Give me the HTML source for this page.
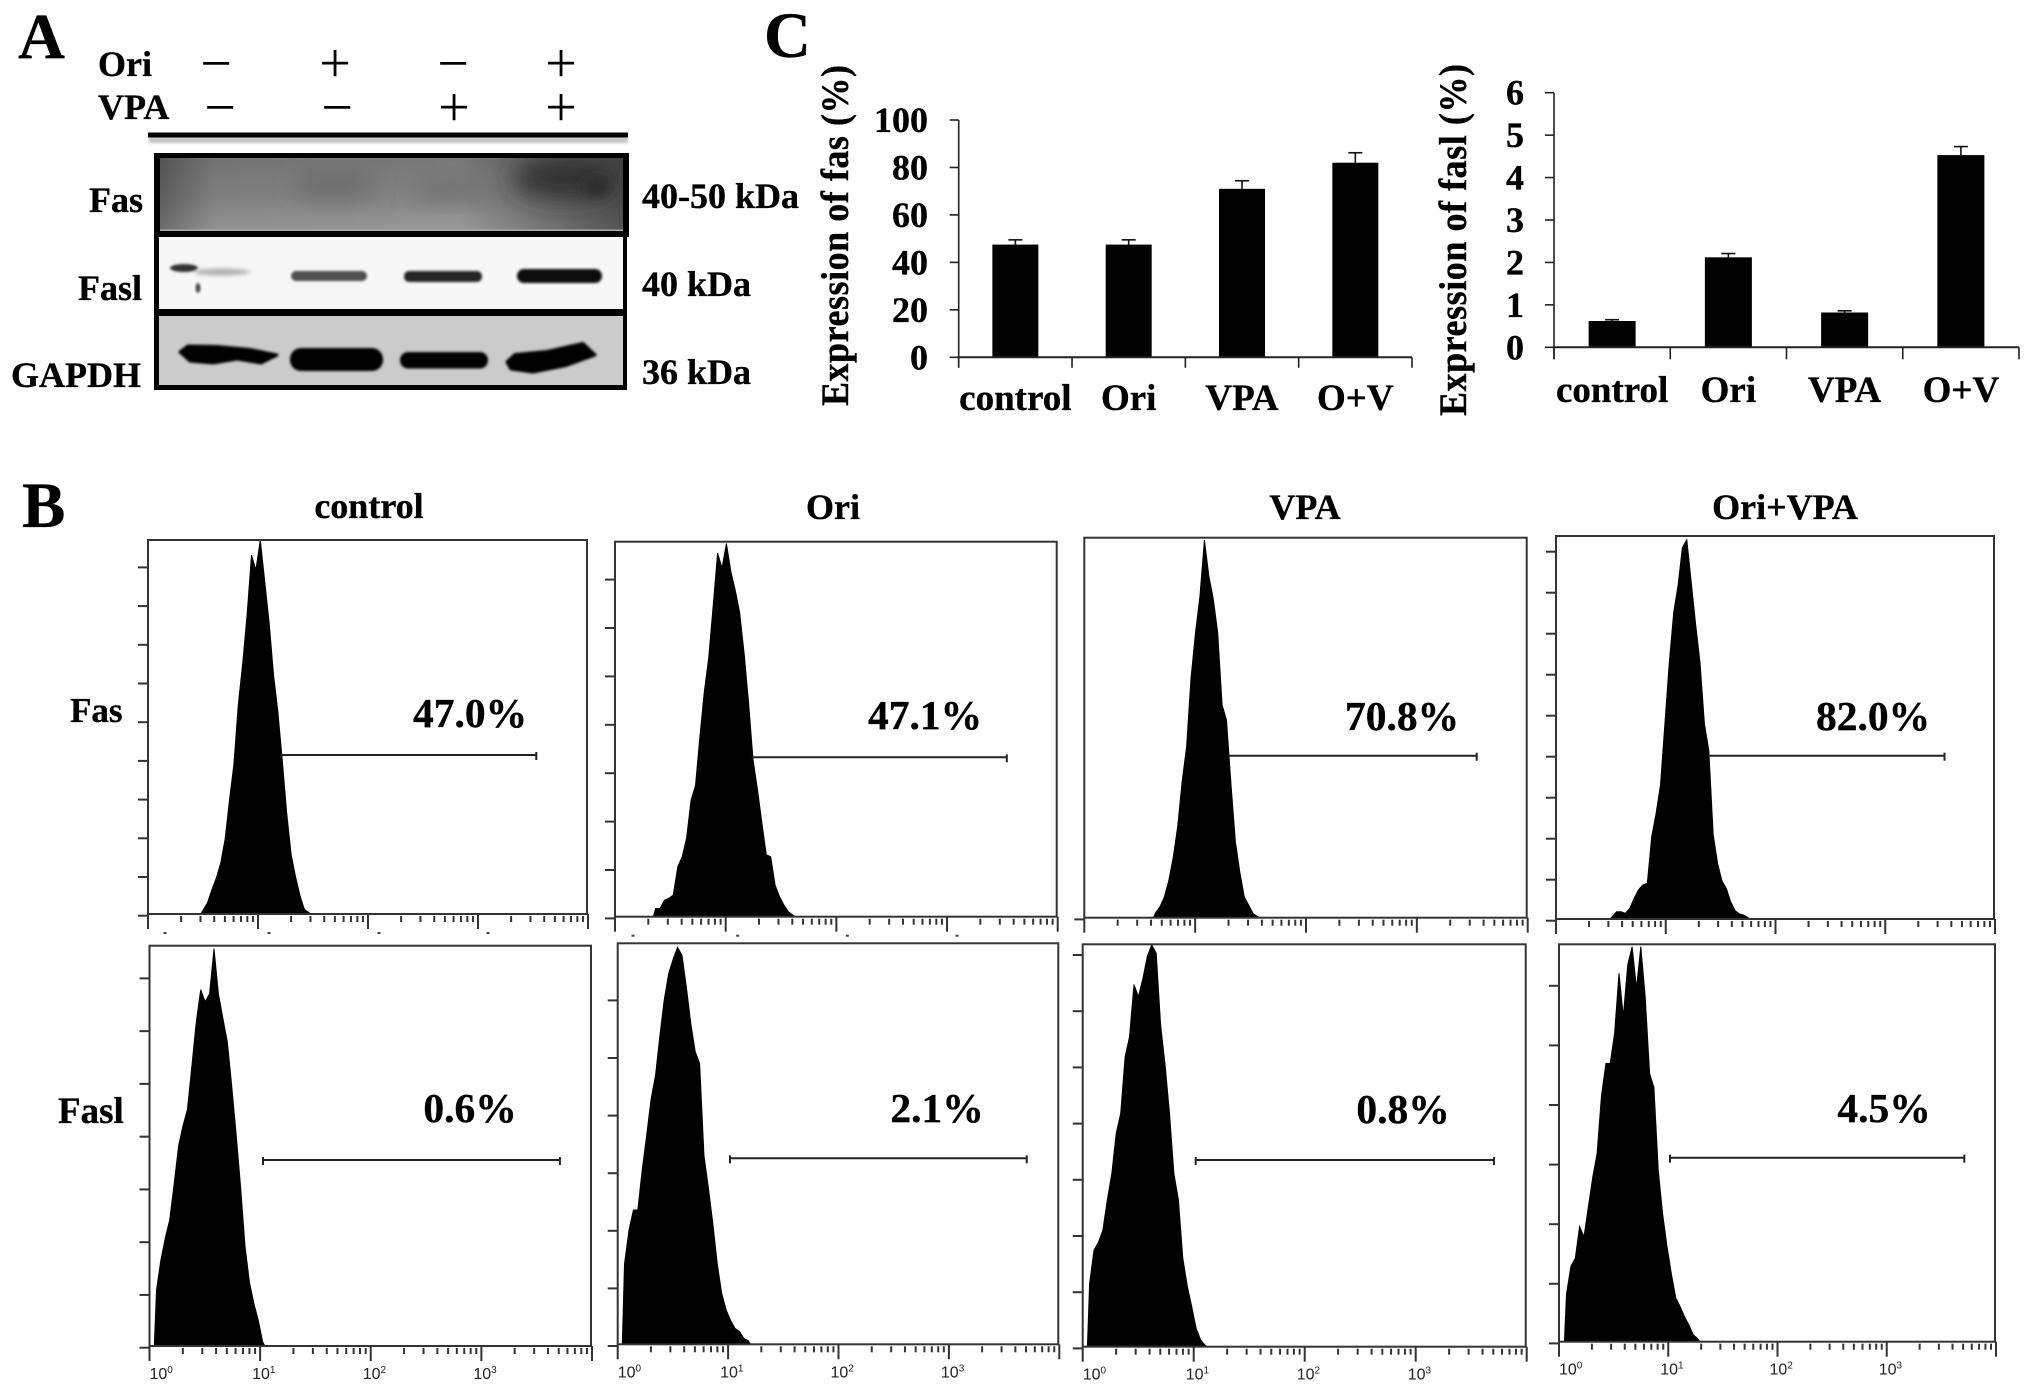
<!DOCTYPE html>
<html lang="en">
<head>
<meta charset="utf-8">
<title>Fas and Fasl expression figure</title>
<style>
html,body{margin:0;padding:0;background:#fff;}
#figure{display:block;width:2031px;height:1393px;font-family:"Liberation Serif",serif;font-weight:bold;fill:#000;}
#figure text{stroke:#000;stroke-width:0.35px;}
#figure .thin text{stroke:none;}
</style>
</head>
<body>
<svg id="figure" xmlns="http://www.w3.org/2000/svg" width="2031" height="1393" viewBox="0 0 2031 1393">
  <defs>
    <filter id="blur1" x="-20%" y="-50%" width="140%" height="200%"><feGaussianBlur stdDeviation="1.2"/></filter>
    <filter id="blur2" x="-30%" y="-80%" width="160%" height="260%"><feGaussianBlur stdDeviation="2.2"/></filter>
    <filter id="blur5" x="-100%" y="-100%" width="300%" height="300%"><feGaussianBlur stdDeviation="6"/></filter>
    <filter id="blur12" x="-50%" y="-100%" width="200%" height="300%"><feGaussianBlur stdDeviation="12"/></filter>
    <linearGradient id="fasShade" x1="0" y1="0" x2="0" y2="1">
      <stop offset="0" stop-color="#777"/><stop offset="0.55" stop-color="#858585"/><stop offset="1" stop-color="#9a9a9a"/>
    </linearGradient>
    <linearGradient id="fasEdge" x1="0" y1="0" x2="1" y2="0">
      <stop offset="0" stop-color="#000" stop-opacity="0.3"/><stop offset="0.12" stop-color="#000" stop-opacity="0.04"/>
      <stop offset="0.65" stop-color="#000" stop-opacity="0"/><stop offset="1" stop-color="#000" stop-opacity="0.45"/>
    </linearGradient>
    <clipPath id="fasClip"><rect x="160" y="158" width="463" height="73"/></clipPath>
    <clipPath id="faslClip"><rect x="159" y="237" width="464" height="72"/></clipPath>
    <clipPath id="gapdhClip"><rect x="159" y="316" width="464" height="69"/></clipPath>
  </defs>

  <g>
    <text x="18" y="58" font-size="65">A</text>
    <text x="98" y="76" font-size="36">Ori</text>
    <text x="98" y="119" font-size="36">VPA</text>
    <g class="thin" font-size="56" font-weight="normal" text-anchor="middle">
      <text x="216" y="82">−</text>
      <text x="335" y="82">+</text>
      <text x="453" y="82">−</text>
      <text x="561" y="82">+</text>
      <text x="220" y="126">−</text>
      <text x="337" y="126">−</text>
      <text x="454" y="126">+</text>
      <text x="561" y="126">+</text>
    </g>
    <rect x="149" y="137" width="479" height="6" fill="#c4c4c4" filter="url(#blur1)"/>
    <rect x="148" y="132.5" width="480" height="5" fill="#000"/>

    <rect x="154" y="153" width="475" height="84" fill="#000"/>
    <g clip-path="url(#fasClip)">
      <rect x="160" y="158" width="463" height="73" fill="url(#fasShade)"/>
      <rect x="160" y="158" width="463" height="73" fill="url(#fasEdge)"/>
      <ellipse cx="335" cy="186" rx="42" ry="10" fill="#666" filter="url(#blur12)"/>
      <ellipse cx="450" cy="190" rx="38" ry="8" fill="#6a6a6a" filter="url(#blur12)"/>
      <ellipse cx="565" cy="178" rx="52" ry="20" fill="#333" filter="url(#blur12)"/>
      <ellipse cx="597" cy="187" rx="14" ry="9" fill="#2a2a2a" filter="url(#blur5)"/>
      <rect x="160" y="229.5" width="463" height="1.5" fill="#aaa"/>
    </g>

    <rect x="154" y="236" width="473" height="154" fill="#000"/>
    <g clip-path="url(#faslClip)">
      <rect x="159" y="237" width="464" height="72" fill="#f7f7f7"/>
      <ellipse cx="184" cy="268" rx="14" ry="4" fill="#333" filter="url(#blur1)"/>
      <ellipse cx="222" cy="272" rx="28" ry="3.5" fill="#b0b0b0" filter="url(#blur2)"/>
      <ellipse cx="198" cy="288" rx="2.5" ry="5" fill="#444" filter="url(#blur1)"/>
      <rect x="291" y="271" width="76" height="10" rx="5" fill="#505050" filter="url(#blur1)"/>
      <rect x="404" y="271" width="78" height="11" rx="5" fill="#262626" filter="url(#blur1)"/>
      <rect x="517" y="269" width="85" height="14" rx="7" fill="#0a0a0a" filter="url(#blur1)"/>
    </g>
    <g clip-path="url(#gapdhClip)">
      <rect x="159" y="316" width="464" height="69" fill="#cbcbcb"/>
      <path d="M180 352 L188 346 L217 346.5 L250 349.5 L277 355 L261 363 L237 359 L213 363 L190 361 Z" fill="#000" stroke="#000" stroke-width="3" stroke-linejoin="round" filter="url(#blur1)"/>
      <rect x="290" y="348" width="93" height="23" rx="11" fill="#000" filter="url(#blur1)"/>
      <rect x="400" y="352" width="88" height="16.5" rx="8" fill="#000" filter="url(#blur1)"/>
      <path d="M507 362 L515 354.5 L547 351.5 L583 343.5 L595 355 L566 365.5 L533 372 L511 369 Z" fill="#000" stroke="#000" stroke-width="3" stroke-linejoin="round" filter="url(#blur1)"/>
    </g>

    <text x="89" y="212" font-size="36">Fas</text>
    <text x="78" y="300" font-size="36">Fasl</text>
    <text x="11" y="387" font-size="36">GAPDH</text>
    <text x="642" y="208" font-size="36">40-50 kDa</text>
    <text x="642" y="296" font-size="36">40 kDa</text>
    <text x="642" y="384" font-size="36">36 kDa</text>
  </g>

  <g>
    <text x="764" y="57" font-size="65">C</text>
    <text transform="translate(848,406) rotate(-90) scale(1,1.1)" font-size="36" textLength="341">Expression of fas (%)</text>
    <text transform="translate(1466,416) rotate(-90) scale(1,1.1)" font-size="36" textLength="352">Expression of fasl (%)</text>
    <g id="fasChart"></g>
    <g id="faslChart"></g>
  </g>

  <g>
    <text x="22" y="527" font-size="65">B</text>
    <text x="369" y="518" font-size="36" text-anchor="middle">control</text>
    <text x="833" y="519" font-size="36" text-anchor="middle">Ori</text>
    <text x="1305" y="519" font-size="36" text-anchor="middle">VPA</text>
    <text x="1785" y="519" font-size="36" text-anchor="middle">Ori+VPA</text>
    <text x="70" y="722" font-size="35">Fas</text>
    <text x="58" y="1123" font-size="37">Fasl</text>
    <g id="histograms"></g>
  </g>
</svg>

<script>
// ---- Bar chart data (panel C) ----
const barCategories = ["control", "Ori", "VPA", "O+V"];
const fasValues = [47.5, 47.5, 71, 82];
const fasErrors = [2, 2, 3.4, 4.2];
const fasTicks = [0, 20, 40, 60, 80, 100];
const faslValues = [0.62, 2.12, 0.82, 4.53];
const faslErrors = [0.03, 0.09, 0.04, 0.2];
const faslTicks = [0, 1, 2, 3, 4, 5, 6];

// ---- Flow cytometry data (panel B): event counts in % of axis height, bins of fixed log width ----
const histogramBinDecades = 0.04;
const fasControlCounts = [1,3,6.5,9.6,13.6,20,30.5,40,56,67,80,96,92,100,89,78,64,54,41,27,16,10,5,1.3,0.4];
const fasOriCounts = [2.2,2.2,4.4,4.9,5.8,13.3,16,21,31,35,48,60,69,83,97,93,99.5,92,87,81,70,57,42,34,25,16.5,16,8.4,5.3,3.1,1.3,0.4];
const fasVpaCounts = [1.3,2.9,5.5,9.9,16,24,36,45,63,75,84.5,99.4,90,84,75,56,52,35,20,12,5.5,3.3,1.1,0.3];
const fasComboCounts = [0.6,1.9,1.9,1.5,2.8,5.4,7.6,8.9,9.3,21.5,27.6,35,51,67,80,87,97,99,88,77,67,51,44,22,14.5,10,8,4.5,2.2,1.3,1,0.3];
const faslControlCounts = [14,21.5,27,31.5,40.6,50,55,59,70,81,89,86,88,99.3,88,82,76,65,53,40,25,16,10.7,6.5,1];
const faslOriCounts = [20,28.5,33.5,33.5,43.5,52,61,67,77,86,92.5,96,99,97,89,80,73,70,47,39,30,20,12.7,8.6,6,4,3.2,1.5,0.9];
const faslVpaCounts = [15.7,24,26,29,36.5,43,53,58,72,77,90,87,91.5,97,99.8,97.8,80,70,58,43,36.5,22,15,10,4.6,1.7,0.4];
const faslComboCounts = [12,19,21,29,26.4,34,41.5,47.4,62,70,70,77.6,92.7,81.8,94.8,99.4,89,99.4,86.8,67.5,64,43,32,24,17,11,8.8,6.3,4.2,1.7,0.8];
const histogramSeries = [fasControlCounts, fasOriCounts, fasVpaCounts, fasComboCounts, faslControlCounts, faslOriCounts, faslVpaCounts, faslComboCounts];
const histogramStartDecades = [0.481, 0.347, 0.623, 0.492, 0.043, 0.042, 0.042, 0.049];
const gateLowDecades = [1.21, 1.235, 1.30, 1.388, 1.026, 1.017, 1.018, 1.016];
const gateHighDecades = [3.53, 3.54, 3.54, 3.54, 3.71, 3.705, 3.705, 3.71];
const gatePercents = [47.0, 47.1, 70.8, 82.0, 0.6, 2.1, 0.8, 4.5];
const decadeLabels = ["0", "1", "2", "3"];
const panelNames = ["fas-control", "fas-ori", "fas-vpa", "fas-ori-vpa", "fasl-control", "fasl-ori", "fasl-vpa", "fasl-ori-vpa"];

// ---- Layout (not data) ----
const fasChartLayout = {left: 958.7, right: 1412, top: 120, bottom: 357.3, max: 100, tickDown: 10.5, labelRight: 928, barWidth: 46, labelBaseline: 410};
const faslChartLayout = {left: 1554, right: 2019, top: 92.7, bottom: 347.3, max: 6, tickDown: 12, labelRight: 1524, barWidth: 47, labelBaseline: 402};
const panelFrames = [
  {x0:148, x4:588, top:540, base:914, stepY:38.7, nY:10, gateY:755, gateBothEnds:false, pctX:470, pctY:727, stub:[17,11,11,10]},
  {x0:615, x4:1057.7, top:541.7, base:916.7, stepY:48.4, nY:8, gateY:757.3, gateBothEnds:false, pctX:925, pctY:729, stub:[18,12,11,10]},
  {x0:1084.3, x4:1527.7, top:537.7, base:917.7, stepY:40, nY:1, gateY:755.7, gateBothEnds:false, pctX:1402, pctY:730, stub:null},
  {x0:1556, x4:1995, top:536, base:919, stepY:41, nY:10, gateY:755.7, gateBothEnds:false, pctX:1873, pctY:730, stub:null},
  {x0:149.5, x4:592, top:945.7, base:1346, stepY:52.76, nY:8, gateY:1160, gateBothEnds:true, pctX:470, pctY:1122, stub:null},
  {x0:617.7, x4:1059.3, top:943.3, base:1344.3, stepY:57.6, nY:7, gateY:1158.3, gateBothEnds:true, pctX:937, pctY:1122, stub:null},
  {x0:1082.7, x4:1526.7, top:944.3, base:1346.7, stepY:56.2, nY:8, gateY:1160, gateBothEnds:true, pctX:1403, pctY:1123, stub:null},
  {x0:1559, x4:1996, top:944.3, base:1341.7, stepY:59.6, nY:7, gateY:1157.7, gateBothEnds:true, pctX:1884, pctY:1122, stub:null}
];

const SVG_NS = "http://www.w3.org/2000/svg";
function make(tag, attrs, parent) {
  const node = document.createElementNS(SVG_NS, tag);
  for (const key in attrs) node.setAttribute(key, attrs[key]);
  parent.appendChild(node);
  return node;
}

function drawBarChart(group, L, categories, values, errors, ticks) {
  const yOf = v => L.bottom - (v / L.max) * (L.bottom - L.top);
  const band = (L.right - L.left) / categories.length;
  const yAxis = make("line", {x1: L.left, x2: L.left, y1: L.top, y2: L.bottom + L.tickDown, stroke: "#222", "stroke-width": 1.6}, group);
  
  
  ticks.forEach(t => {
    const tick = make("line", {x1: L.left - 9, x2: L.left, y1: yOf(t), y2: yOf(t), stroke: "#222", "stroke-width": 1.6}, group);
    
    
    const label = make("text", {x: L.labelRight, y: yOf(t) + 12, "font-size": 36, "text-anchor": "end"}, group);
    
    
    label.textContent = t;
  });
  categories.forEach((c, i) => {
    const cx = L.left + band * (i + 0.5);
    const top = yOf(values[i]);
    const errTop = yOf(values[i] + errors[i]);
    const stem = make("line", {x1: cx, x2: cx, y1: errTop, y2: top, stroke: "#111", "stroke-width": 1.6}, group);
    
    
    const cap = make("line", {x1: cx - 7, x2: cx + 7, y1: errTop, y2: errTop, stroke: "#111", "stroke-width": 1.6}, group);
    
    
    const bar = make("rect", {x: cx - L.barWidth / 2, y: top, width: L.barWidth, height: L.bottom - top, fill: "#000"}, group);
    
    
    const label = make("text", {x: cx, y: L.labelBaseline, "font-size": 37, "text-anchor": "middle"}, group);
    
    
    label.textContent = c;
  });
  const xAxis = make("line", {x1: L.left, x2: L.right, y1: L.bottom, y2: L.bottom, stroke: "#222", "stroke-width": 2}, group);
  
  
  for (let i = 0; i <= categories.length; i++) {
    const tx = L.left + band * i;
    const tick = make("line", {x1: tx, x2: tx, y1: L.bottom, y2: L.bottom + L.tickDown, stroke: "#222", "stroke-width": 1.6}, group);
    
    
  }
}

function drawHistogram(root, i) {
  const F = panelFrames[i];
  const g = make("g", {}, root);
  
  
  const xOf = d => F.x0 + d * (F.x4 - F.x0) / 4;
  const yOf = p => F.base - p / 100 * (F.base - F.top);

  // histogram silhouette: outline through the bin centres
  const counts = histogramSeries[i];
  const start = histogramStartDecades[i];
  let d = "M" + xOf(start).toFixed(1) + " " + F.base;
  counts.forEach((c, k) => {
    d += "L" + xOf(start + (k + 0.5) * histogramBinDecades).toFixed(1) + " " + yOf(c).toFixed(1);
  });
  d += "L" + xOf(start + counts.length * histogramBinDecades).toFixed(1) + " " + F.base + "Z";
  const area = make("path", {d: d, fill: "#000", stroke: "#000", "stroke-width": 1}, g);
  
  

  // frame
  const frame = make("rect", {x: F.x0, y: F.top, width: F.x4 - F.x0 - 1, height: F.base - F.top, fill: "none", stroke: "#333", "stroke-width": 2}, g);
  
  

  // y ticks
  for (let t = 0; t < F.nY; t++) {
    const y = F.base + 1.7 - t * F.stepY;
    const tick = make("line", {x1: F.x0 - 10, x2: F.x0, y1: y, y2: y, stroke: "#333", "stroke-width": 2}, g);
    
    
  }

  // x ticks on log decades
  for (let dec = 0; dec <= 4; dec++) {
    const major = make("line", {x1: xOf(dec), x2: xOf(dec), y1: F.base, y2: F.base + 15, stroke: "#333", "stroke-width": 2}, g);
    
    
    if (dec === 4) break;
    for (let m = 2; m <= 9; m++) {
      const mx = xOf(dec + Math.log10(m));
      const minor = make("line", {x1: mx, x2: mx, y1: F.base + 2, y2: F.base + 8, stroke: "#333", "stroke-width": 2}, g);
      
      
    }
  }

  // decade labels on bottom row, clipped fragments on top row
  if (i >= 4) {
    decadeLabels.forEach((exp, k) => {
      const lx = k === 0 ? xOf(0) : xOf(k) - 8;
      const label = make("text", {x: lx, y: F.base + 33, "font-size": 16, "font-weight": "normal", fill: "#222", style: "font-family:'Liberation Sans',sans-serif;stroke:none"}, g);
      
      
      label.textContent = "10";
      const sup = make("tspan", {dy: -6, "font-size": 10}, label);
      sup.textContent = exp;
    });
  } else if (F.stub) {
    F.stub.forEach((off, k) => {
      const frag = make("rect", {x: xOf(k) + off - 1.5, y: F.base + 18, width: 3, height: 2, fill: "#444"}, g);
      
      
    });
  }

  // gate marker
  const gx1 = xOf(gateLowDecades[i]);
  const gx2 = xOf(gateHighDecades[i]);
  const gate = make("line", {x1: gx1, x2: gx2, y1: F.gateY, y2: F.gateY, stroke: "#222", "stroke-width": 2}, g);
  
  
  const endTick = make("line", {x1: gx2, x2: gx2, y1: F.gateY - 3, y2: F.gateY + 5, stroke: "#222", "stroke-width": 2}, g);
  
  
  if (F.gateBothEnds) {
    const startTick = make("line", {x1: gx1, x2: gx1, y1: F.gateY - 3, y2: F.gateY + 5, stroke: "#222", "stroke-width": 2}, g);
    
    
  }

  // percentage
  const pct = make("text", {x: F.pctX, y: F.pctY, "font-size": 41.5, "text-anchor": "middle"}, g);
  
  
  pct.textContent = gatePercents[i].toFixed(1) + "%";
}

drawBarChart(document.getElementById("fasChart"), fasChartLayout, barCategories, fasValues, fasErrors, fasTicks);
drawBarChart(document.getElementById("faslChart"), faslChartLayout, barCategories, faslValues, faslErrors, faslTicks);
const histogramRoot = document.getElementById("histograms");
histogramSeries.forEach((_, i) => drawHistogram(histogramRoot, i));
</script>
</body>
</html>
